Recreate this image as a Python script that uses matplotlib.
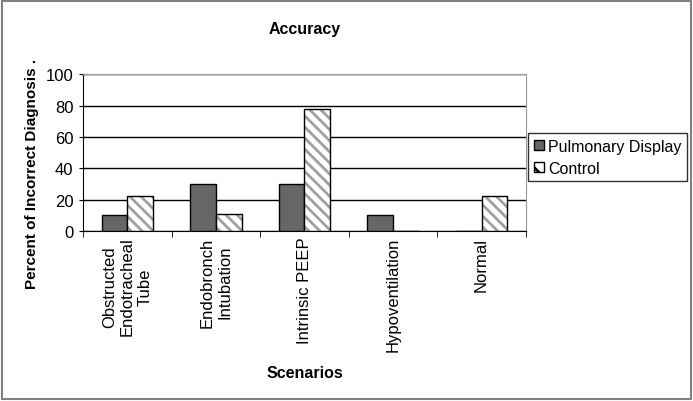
import matplotlib.pyplot as plt
import matplotlib.patches as mpatches
import numpy as np

plt.rcParams['font.family'] = ['Liberation Sans', 'DejaVu Sans']
plt.rcParams['hatch.linewidth'] = 2.0

scenarios = ["Obstructed\nEndotracheal\nTube", "Endobronch\nIntubation", "Intrinsic PEEP",
             "Hypoventilation", "Normal"]
pulmonary = [10, 30, 30, 10, 0]
control = [22, 11, 78, 0, 22]

fig = plt.figure(figsize=(6.93, 4.02), dpi=100)
# outer frame of the chart
fig.patches.append(mpatches.Rectangle((0.003, 0.005), 0.994, 0.99, transform=fig.transFigure,
                                      fill=False, edgecolor='#808080', linewidth=1.5))
ax = fig.add_axes([0.1198, 0.423, 0.639, 0.39])

x = np.arange(len(scenarios))
w = 0.29
ax.bar(x - w/2, pulmonary, w, color='#666666', edgecolor='black', linewidth=1, zorder=3)
# hatch drawn in grey, outline on top in black
ax.bar(x + w/2, control, w, color='white', edgecolor='#a0a0a0', linewidth=0, hatch='\\\\\\', zorder=3)
ax.bar(x + w/2, control, w, color='none', edgecolor='black', linewidth=1, zorder=4)

ax.set_xlim(-0.5, len(scenarios) - 0.5)
ax.set_ylim(0, 100)
ax.set_yticks([0, 20, 40, 60, 80, 100])
ax.yaxis.grid(True, color='black', linewidth=1, zorder=0)
ax.set_axisbelow(True)

ax.set_xticks(x)
ax.set_xticklabels(scenarios, rotation=90, ha='center', va='top', multialignment='center', fontsize=12)
ax.set_xticks(np.arange(-0.5, len(scenarios)), minor=True)
ax.tick_params(axis='x', which='major', length=0, pad=4)
ax.tick_params(axis='x', which='minor', length=4, direction='out', color='black')
ax.tick_params(axis='y', length=6, direction='inout', labelsize=12, pad=4)

for s in ['top', 'right']:
    ax.spines[s].set_color('#999999')
for s in ['left', 'bottom']:
    ax.spines[s].set_color('black')

ax.set_title('Accuracy', fontsize=11.5, fontweight='bold', pad=30)
ax.set_ylabel('Percent of Incorrect Diagnosis .', fontsize=11, fontweight='bold')
ax.yaxis.set_label_coords(-0.1, 0.37)
ax.set_xlabel('Scenarios', fontsize=11.5, fontweight='bold', labelpad=10)

handles = [mpatches.Patch(facecolor='#666666', edgecolor='black', label='Pulmonary Display'),
           mpatches.Patch(facecolor='white', edgecolor='black', hatch='\\\\', label='Control')]
leg = ax.legend(handles=handles, loc='center left', bbox_to_anchor=(0.995, 0.47), fontsize=11.5, frameon=True,
                fancybox=False, edgecolor='black', handlelength=0.6, handleheight=0.6,
                handletextpad=0.3, borderpad=0.35, labelspacing=0.45, borderaxespad=0.3)
leg.get_frame().set_linewidth(1)

plt.savefig('out.png', dpi=100)
